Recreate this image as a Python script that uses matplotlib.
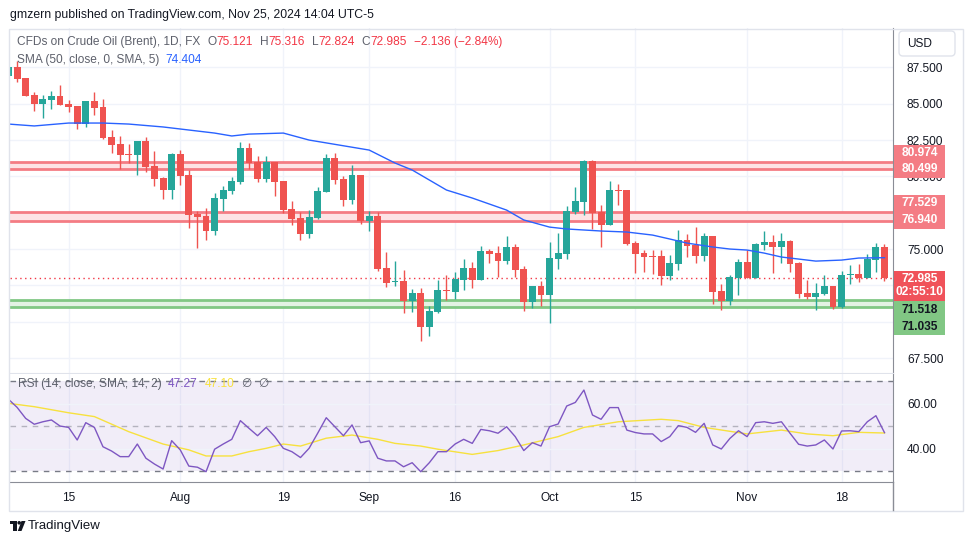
import numpy as np
import pandas as pd
import matplotlib
matplotlib.use("Agg")
import matplotlib.pyplot as plt
from matplotlib.patches import Rectangle, FancyBboxPatch, Circle, Polygon
from matplotlib.ticker import FuncFormatter

plt.rcParams['font.family'] = ['Liberation Sans', 'DejaVu Sans']

# daily bars, CFD trades every weekday
dates = pd.bdate_range("2024-07-04", "2024-11-25")

opens = [86.90, 87.53, 86.77, 85.60, 84.98, 85.28, 85.53, 84.98, 84.84, 83.62,
         85.19, 84.77, 82.71, 82.23, 81.55, 81.49, 82.43, 80.71, 79.89, 79.06,
         81.54, 80.09, 77.41, 77.27, 76.26, 78.44, 78.99, 79.61, 81.97, 80.99,
         79.84, 80.99, 79.68, 77.75, 77.13, 76.03, 77.13, 78.92, 81.26, 79.82,
         78.37, 80.09, 76.93, 77.27, 73.69, 72.73, 72.80, 71.42, 71.97, 69.63,
         70.66, 72.18, 72.04, 72.87, 73.69, 72.87, 74.86, 74.72, 74.17, 75.14,
         73.62, 71.35, 72.45, 71.83, 74.31, 74.66, 77.55, 78.23, 81.06, 77.55,
         76.65, 79.06, 79.06, 75.41, 74.72, 74.52, 74.52, 73.14, 73.97, 75.62,
         75.28, 74.52, 75.89, 72.11, 71.42, 73.00, 74.11, 73.00, 75.28, 75.48,
         75.14, 75.55, 74.04, 71.97, 71.70, 71.90, 72.45, 71.01, 73.21, 73.28,
         73.00, 74.24, 75.121]
highs = [87.60, 87.94, 86.80, 85.78, 85.60, 85.87, 86.29, 85.25, 84.84, 85.19,
         85.83, 85.34, 83.19, 82.78, 82.23, 82.43, 82.73, 81.74, 79.97, 81.63,
         81.81, 80.44, 77.64, 77.82, 78.85, 79.34, 79.96, 82.36, 82.30, 81.40,
         81.40, 80.99, 79.68, 78.30, 77.55, 77.68, 79.27, 81.54, 81.61, 80.02,
         80.78, 80.09, 77.62, 77.55, 74.79, 74.17, 73.55, 72.25, 72.32, 71.08,
         72.87, 73.21, 73.42, 74.31, 74.11, 75.21, 75.00, 75.21, 75.89, 75.34,
         73.83, 72.45, 72.80, 75.48, 76.10, 77.96, 79.27, 81.13, 81.13, 78.03,
         79.68, 79.47, 79.06, 75.55, 74.93, 74.93, 74.93, 74.59, 76.31, 76.03,
         76.51, 76.10, 75.89, 72.59, 73.21, 74.31, 74.93, 75.41, 76.24, 75.96,
         76.10, 75.62, 74.11, 72.87, 72.66, 73.21, 72.45, 73.49, 73.90, 73.97,
         74.66, 75.41, 75.316]
lows = [86.80, 86.51, 85.50, 84.52, 84.00, 84.64, 84.90, 84.45, 83.28, 83.40,
        84.22, 82.57, 81.61, 80.51, 80.94, 80.09, 80.32, 79.36, 78.44, 78.44,
        79.40, 76.45, 75.07, 75.62, 75.96, 77.62, 78.79, 79.47, 80.53, 79.61,
        79.61, 78.67, 77.50, 76.65, 75.62, 75.76, 77.06, 78.92, 79.47, 77.96,
        78.10, 76.72, 76.24, 73.49, 72.38, 72.45, 70.60, 70.66, 68.67, 69.01,
        70.60, 71.49, 71.56, 72.18, 72.32, 72.87, 74.04, 73.07, 73.97, 73.07,
        70.73, 70.94, 71.08, 69.91, 73.62, 74.31, 77.41, 77.34, 76.38, 75.14,
        76.65, 78.03, 75.30, 73.35, 73.42, 73.28, 72.52, 72.87, 73.55, 74.45,
        74.04, 74.17, 71.21, 70.80, 71.15, 71.83, 73.00, 73.00, 74.93, 73.35,
        74.04, 73.42, 71.63, 71.56, 70.80, 71.83, 70.87, 70.94, 72.59, 72.73,
        73.00, 73.42, 72.824]
closes = [87.50, 86.72, 85.55, 84.98, 85.32, 85.53, 84.91, 84.77, 83.62, 85.19,
          84.72, 82.64, 82.16, 81.49, 81.50, 82.43, 80.66, 79.84, 79.06, 81.56,
          80.05, 77.36, 77.20, 76.26, 78.51, 79.06, 79.68, 81.97, 80.94, 79.84,
          80.99, 79.63, 77.68, 77.06, 76.05, 77.20, 78.99, 81.26, 79.75, 78.37,
          80.09, 76.93, 77.27, 73.62, 72.66, 72.80, 71.42, 71.97, 69.63, 70.73,
          72.18, 72.11, 72.94, 73.69, 72.87, 74.86, 74.66, 74.17, 75.14, 73.55,
          71.35, 72.45, 71.83, 74.38, 74.72, 77.62, 78.30, 81.06, 77.48, 76.65,
          79.06, 78.99, 75.34, 74.66, 74.45, 74.45, 73.14, 74.04, 75.62, 75.21,
          74.52, 75.89, 72.04, 71.42, 73.07, 74.11, 73.00, 75.34, 75.48, 75.14,
          75.55, 73.97, 71.90, 71.70, 71.97, 72.45, 71.01, 73.21, 73.28, 73.00,
          74.31, 75.14, 72.985]

# SMA(50) at sample dates
sma_dates = ["2024-07-04", "2024-07-09", "2024-07-15", "2024-07-19", "2024-07-24",
             "2024-07-30", "2024-08-02", "2024-08-07", "2024-08-09", "2024-08-13",
             "2024-08-19", "2024-08-22", "2024-09-02", "2024-09-05", "2024-09-09",
             "2024-09-13", "2024-09-18", "2024-09-24", "2024-09-26", "2024-10-01",
             "2024-10-03", "2024-10-09", "2024-10-14", "2024-10-17", "2024-10-21",
             "2024-10-23", "2024-10-28", "2024-10-30", "2024-11-01", "2024-11-05",
             "2024-11-07", "2024-11-11", "2024-11-13", "2024-11-18", "2024-11-20",
             "2024-11-25"]
sma_vals = [83.60, 83.47, 83.67, 83.67, 83.60, 83.40, 83.19, 82.98, 82.78, 82.91,
            82.98, 82.50, 81.81, 80.92, 80.44, 79.06, 78.51, 77.68, 77.00, 76.51,
            76.38, 76.24, 76.17, 75.96, 75.69, 75.41, 75.14, 75.00, 74.93, 74.72,
            74.45, 74.31, 74.17, 74.24, 74.38, 74.404]

# RSI(14), one value per bar
rsi_vals = [62.1, 58.5, 53.6, 51.0, 52.1, 52.9, 50.2, 49.6, 44.0, 51.7,
            49.6, 41.0, 39.1, 36.6, 36.6, 42.2, 35.9, 33.3, 31.1, 43.7,
            39.6, 32.4, 31.9, 29.9, 39.9, 42.2, 44.3, 52.6, 49.2, 45.9,
            49.6, 45.5, 40.3, 38.8, 36.2, 40.3, 47.0, 53.9, 49.9, 45.9,
            50.7, 42.8, 43.6, 35.9, 34.7, 34.7, 32.1, 33.9, 29.9, 33.9,
            38.8, 38.8, 42.2, 44.3, 42.5, 48.7, 48.1, 47.0, 49.9, 45.5,
            39.3, 42.8, 41.3, 49.9, 51.1, 59.1, 60.7, 66.2, 55.1, 53.2,
            58.4, 58.4, 48.4, 47.3, 46.7, 46.7, 43.3, 45.5, 50.4, 49.6,
            47.4, 51.4, 41.8, 40.0, 44.7, 48.1, 45.5, 51.7, 52.1, 51.4,
            52.1, 47.0, 42.1, 41.3, 41.8, 44.0, 40.0, 48.0, 48.1, 47.7,
            52.1, 54.8, 47.27]

# RSI smoothing line (SMA 14) read at sample dates
rsi_ma_dates = ["2024-07-04", "2024-07-09", "2024-07-15", "2024-07-18", "2024-07-24",
                "2024-07-30", "2024-08-02", "2024-08-06", "2024-08-09", "2024-08-13",
                "2024-08-15", "2024-08-19", "2024-08-21", "2024-08-26", "2024-08-29",
                "2024-09-03", "2024-09-05", "2024-09-10", "2024-09-12", "2024-09-18",
                "2024-09-23", "2024-09-26", "2024-10-02", "2024-10-07", "2024-10-11",
                "2024-10-18", "2024-10-22", "2024-10-25", "2024-11-01", "2024-11-07",
                "2024-11-12", "2024-11-15", "2024-11-20", "2024-11-25"]
rsi_ma_vals = [60.3, 58.8, 56.1, 54.4, 47.7, 42.2, 39.6, 36.9, 36.9, 38.8,
               40.3, 42.2, 41.3, 44.8, 46.2, 44.3, 42.5, 41.3, 39.9, 37.6,
               39.3, 41.8, 45.5, 49.6, 52.1, 53.2, 52.6, 49.6, 46.7, 48.4,
               46.7, 45.9, 47.4, 47.10]

red_zones = [(80.499, 80.974), (76.940, 77.529)]
green_zone = (71.035, 71.518)
last_close = 72.985
countdown = "02:55:10"

# price scale: grid every 2.5, labels only where no tag covers them
price_grid = [67.5, 70.0, 72.5, 75.0, 77.5, 80.0, 82.5, 85.0, 87.5]
price_shown = [67.5, 75.0, 80.0, 82.5, 85.0, 87.5]

tick_dates = ["2024-07-15", "2024-08-01", "2024-08-19", "2024-09-02", "2024-09-16",
              "2024-10-01", "2024-10-15", "2024-11-01", "2024-11-18"]
tick_labels = ["15", "Aug", "19", "Sep", "16", "Oct", "15", "Nov", "18"]

UP = "#26A69A"
DOWN = "#EF5350"
GRID = "#F0F3FA"
TXT = "#131722"
GRAY = "#5d606b"


def pos(d):
    return dates.get_loc(pd.Timestamp(d))


W, H = 970, 545
fig = plt.figure(figsize=(W / 100, H / 100), dpi=100)


def box(x0, y0, x1, y1):
    return [x0 / W, 1 - y1 / H, (x1 - x0) / W, (y1 - y0) / H]


ax = fig.add_axes(box(10, 28, 893, 373))
rax = fig.add_axes(box(10, 374, 893, 482))

x = np.arange(len(dates))
tick_pos = [pos(d) for d in tick_dates]

# ---- price panel
ax.set_xlim(0.175, 102.99)
ax.set_ylim(66.47, 90.21)
for t in tick_pos:
    ax.axvline(t, color=GRID, lw=1, zorder=0)
for p in price_grid:
    ax.axhline(p, color=GRID, lw=1, zorder=0)

for lo, hi in red_zones:
    ax.axhspan(lo, hi, color="#FDE3E5", lw=0, zorder=1)
    ax.axhline(lo, color="#F47C84", lw=2, zorder=1.2)
    ax.axhline(hi, color="#F47C84", lw=2, zorder=1.2)
ax.axhspan(green_zone[0], green_zone[1], color="#E3F2E4", lw=0, zorder=1)
ax.axhline(green_zone[0], color="#81C784", lw=2, zorder=1.2)
ax.axhline(green_zone[1], color="#81C784", lw=2, zorder=1.2)

ax.axhline(last_close, color="#F23645", lw=1, ls=(0, (1, 2.5)), zorder=1.5)

o = np.array(opens)
c = np.array(closes)
colors = np.where(c >= o, UP, DOWN)
ax.vlines(x, lows, highs, colors=colors, lw=1, zorder=3)
body = np.maximum(np.abs(c - o), 0.07)
ax.bar(x, body, bottom=np.minimum(o, c), width=0.8, color=colors, lw=0, zorder=3.5)

ax.plot([pos(d) for d in sma_dates], sma_vals, color="#2962FF", lw=1, zorder=4)

ax.yaxis.tick_right()
ax.set_yticks(price_shown)
ax.yaxis.set_major_formatter(FuncFormatter(lambda v, _: f"{v:.3f}"))
ax.tick_params(axis="y", length=0, pad=10, labelsize=8.6, labelcolor=TXT)
ax.tick_params(axis="x", bottom=False, labelbottom=False)
for s in ["top", "left"]:
    ax.spines[s].set_visible(False)
ax.spines["bottom"].set_color("#E0E3EB")
ax.spines["right"].set_color("#8a8d96")

# ---- RSI panel
rax.set_xlim(0.175, 102.99)
rax.set_ylim(25.33, 73.33)
for t in tick_pos:
    rax.axvline(t, color=GRID, lw=1, zorder=0)
for p in [40, 60]:
    rax.axhline(p, color=GRID, lw=1, zorder=0.5)
rax.axhspan(30, 70, color="#7E57C2", alpha=0.1, lw=0, zorder=0.2)
rax.axhline(70, color="#787B86", lw=1, ls=(0, (4, 4)), zorder=1)
rax.axhline(30, color="#787B86", lw=1, ls=(0, (4, 4)), zorder=1)
rax.axhline(50, color="#787B86", lw=1, ls=(0, (4, 4)), alpha=0.5, zorder=1)
rax.plot(x, rsi_vals, color="#7E57C2", lw=1, zorder=3)
rax.plot([pos(d) for d in rsi_ma_dates], rsi_ma_vals, color="#F7E13E", lw=1, zorder=2.5)

rax.yaxis.tick_right()
rax.set_yticks([40, 60])
rax.yaxis.set_major_formatter(FuncFormatter(lambda v, _: f"{v:.2f}"))
rax.tick_params(axis="y", length=0, pad=10, labelsize=8.6, labelcolor=TXT)
rax.set_xticks(tick_pos)
rax.set_xticklabels(tick_labels)
rax.tick_params(axis="x", length=0, pad=7, labelsize=8.6, labelcolor=TXT)
for s in ["top", "left"]:
    rax.spines[s].set_visible(False)
rax.spines["bottom"].set_color("#8a8d96")
rax.spines["right"].set_color("#8a8d96")

# ---- overlay in pixel units for header, tags and frame
ov = fig.add_axes([0, 0, 1, 1], zorder=10)
ov.set_xlim(0, W)
ov.set_ylim(H, 0)
ov.axis("off")

ov.add_patch(Rectangle((9.5, 28.5), 954, 482, fill=False, ec="#E0E3EB", lw=1))
ov.plot([893.5, 893.5], [482, 510], color="#8a8d96", lw=1)

renderer = fig.canvas.get_renderer()


def text_run(x0, y0, parts, size=8.6):
    for s, col, gap in parts:
        t = ov.text(x0, y0, s, color=col, fontsize=size, va="center", ha="left")
        x0 += t.get_window_extent(renderer=renderer).width + gap


ov.text(10, 15, "gmzern published on TradingView.com, Nov 25, 2024 14:04 UTC-5",
        fontsize=8.8, color=TXT, va="center")

RED = "#F23645"
text_run(17, 42, [("CFDs on Crude Oil (Brent), 1D, FX", GRAY, 7),
                  ("O", GRAY, 0), (f"{opens[-1]:.3f}", RED, 7),
                  ("H", GRAY, 0), (f"{highs[-1]:.3f}", RED, 7),
                  ("L", GRAY, 0), (f"{lows[-1]:.3f}", RED, 7),
                  ("C", GRAY, 0), (f"{closes[-1]:.3f}", RED, 7),
                  ("\u22122.136 (\u22122.84%)", RED, 0)])
text_run(17, 60, [("SMA (50, close, 0, SMA, 5)", GRAY, 6),
                  (f"{sma_vals[-1]:.3f}", "#2962FF", 0)])
text_run(18, 384, [("RSI (14, close, SMA, 14, 2)", GRAY, 6),
                   (f"{rsi_vals[-1]:.2f}", "#7E57C2", 7),
                   (f"{rsi_ma_vals[-1]:.2f}", "#F7E13E", 7),
                   ("\u2205", GRAY, 6), ("\u2205", GRAY, 0)])

# USD button
ov.add_patch(FancyBboxPatch((899, 31), 56, 25, boxstyle="round,pad=0,rounding_size=4",
                            fc="white", ec="#E0E3EB", lw=1))
ov.text(907, 44, "USD", fontsize=8.6, color=TXT, va="center")


def tag(y0, y1, lines, fc, tc):
    ov.add_patch(Rectangle((894, y0), 51, y1 - y0, fc=fc, ec="none"))
    for yy, s in lines:
        ov.text(919.5, yy, s, fontsize=8.6, color=tc, va="center", ha="center",
                fontweight="bold")


tag(145, 178, [(153, f"{red_zones[0][1]:.3f}"), (169.5, f"{red_zones[0][0]:.3f}")],
    "#F47C84", "white")
tag(195, 229, [(203.5, f"{red_zones[1][1]:.3f}"), (220, f"{red_zones[1][0]:.3f}")],
    "#F47C84", "white")
tag(270.5, 300.5, [(278.5, f"{last_close:.3f}"), (292, countdown)], "#F0525A", "white")
tag(301, 335, [(310, f"{green_zone[1]:.3f}"), (326.5, f"{green_zone[0]:.3f}")],
    "#81C784", TXT)

# TradingView logo
ov.add_patch(Rectangle((10, 521), 7, 3, fc=TXT, ec="none"))
ov.add_patch(Rectangle((13.5, 521), 3.2, 10, fc=TXT, ec="none"))
ov.add_patch(Circle((19.2, 522.8), 1.8, fc=TXT, ec="none"))
ov.add_patch(Polygon([(21.5, 521), (25.5, 521), (21.5, 531), (17.8, 531)], fc=TXT, ec="none"))
ov.text(28, 526.5, "TradingView", fontsize=9.5, color=TXT, va="center")

fig.savefig("out.png", dpi=100)
